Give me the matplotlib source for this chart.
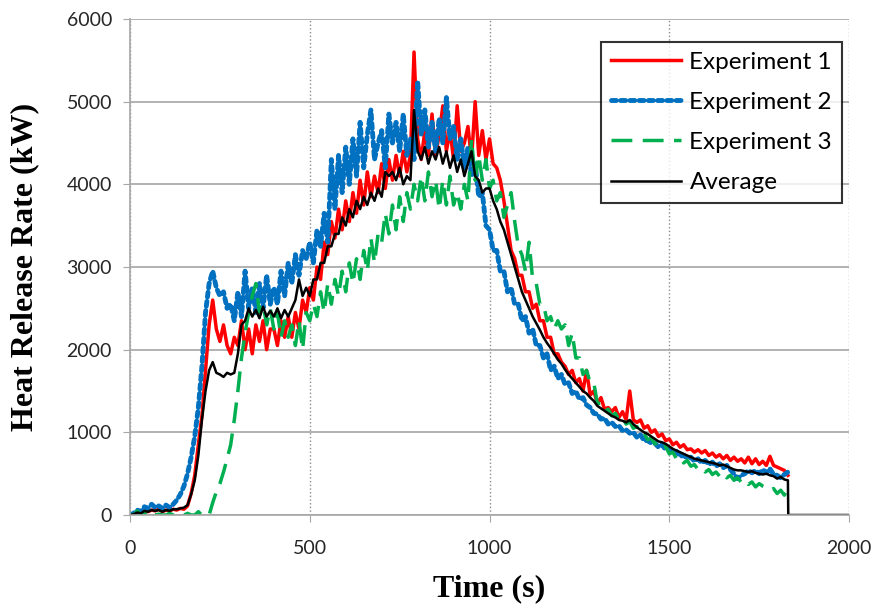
import numpy as np
import matplotlib
matplotlib.use("Agg")
import matplotlib.pyplot as plt

# time base: 10 s steps up to 1830 s
t = np.arange(0, 1840, 10)

exp1 = [0, 10, 30, 20, 50, 40, 60, 50, 70, 40,
        60, 50, 70, 60, 80, 70, 110, 260, 480, 850,
        1200, 1750, 2300, 2600, 2250, 2100, 2300, 2050, 1950, 2150,
        2050, 2350, 2000, 2250, 1950, 2300, 2100, 2350, 2000, 2250,
        2250, 2050, 2350, 2150, 2400, 2150, 2450, 2250, 2600, 2450,
        2750, 2600, 3000, 2850, 3300, 3150, 3550, 3350, 3700, 3450,
        3800, 3550, 3900, 3650, 4050, 3750, 4150, 3850, 4100, 3900,
        4250, 3950, 4300, 4050, 4350, 4100, 4400, 4150, 4350, 5600,
        4550, 4300, 4650, 4350, 4850, 4350, 4600, 4950, 4400, 4650,
        4300, 4950, 4400, 4500, 4700, 4300, 5000, 4350, 4650, 4300,
        4550, 4250, 4200, 4050, 3800, 3500, 3200, 3100, 2900, 2900,
        2700, 2700, 2500, 2550, 2350, 2350, 2150, 2150, 1950, 1950,
        1850, 1800, 1700, 1750, 1600, 1650, 1500, 1750, 1450, 1500,
        1350, 1420, 1280, 1300, 1250, 1300, 1180, 1250, 1150, 1500,
        1150, 1120, 1150, 1050, 1080, 1000, 1030, 950, 980, 900,
        920, 850, 880, 820, 850, 790, 800, 760, 790, 750,
        780, 720, 750, 700, 730, 680, 720, 660, 700, 650,
        680, 630, 700, 620, 680, 610, 650, 600, 710, 600,
        580, 560, 540, 480]

exp2 = [0, 20, 60, 40, 100, 80, 130, 90, 110, 80,
        120, 90, 130, 180, 250, 350, 500, 700, 950, 1300,
        1800, 2450, 2800, 2950, 2750, 2650, 2700, 2500, 2550, 2350,
        2700, 2400, 2950, 2500, 2750, 2450, 2800, 2500, 2900, 2550,
        2750, 2550, 2950, 2650, 3050, 2800, 3150, 2900, 3200, 3100,
        3300, 3050, 3450, 3250, 3650, 3300, 4300, 3700, 4350, 3900,
        4450, 4000, 4550, 4100, 4750, 4200, 4600, 4900, 4300, 4500,
        4650, 4200, 4850, 4500, 4750, 4400, 4850, 4350, 4550, 4300,
        5250, 4600, 4900, 4450, 4750, 4400, 4800, 4500, 5050, 4550,
        4700, 4300, 4550, 4200, 4450, 4100, 4250, 3850, 3900, 3500,
        3450, 3200, 3200, 2950, 2950, 2700, 2750, 2550, 2550, 2350,
        2400, 2200, 2250, 2050, 2050, 1900, 1950, 1750, 1800, 1650,
        1700, 1580, 1600, 1470, 1500, 1400, 1420, 1330, 1300, 1230,
        1220, 1160, 1170, 1100, 1120, 1070, 1080, 1020, 1030, 990,
        1000, 940, 970, 900, 900, 870, 870, 820, 850, 790,
        800, 750, 770, 710, 720, 690, 700, 650, 680, 630,
        660, 610, 640, 590, 620, 570, 600, 550, 500, 440,
        480, 500, 540, 510, 540, 500, 550, 510, 560, 490,
        480, 450, 490, 520]

exp3 = [0, 0, 50, 0, 20, 0, 40, 0, 10, 0,
        0, 20, 0, 0, 30, 0, 20, 0, 0, 40,
        0, 10, 0, 150, 280, 380, 520, 680, 850, 1150,
        1500, 1900, 2200, 2450, 2650, 2800, 2450, 2550, 2300, 2500,
        2250, 2450, 2150, 2350, 2150, 2300, 2050, 2350, 2000, 2450,
        2350, 2550, 2400, 2700, 2450, 2800, 2550, 2850, 2650, 2950,
        2700, 3050, 2800, 3100, 2850, 3200, 2950, 3350, 3050, 3400,
        3300, 3650, 3400, 3750, 3450, 3850, 3550, 3900, 3700, 4000,
        3800, 4100, 3800, 4150, 3850, 4050, 3700, 4050, 3750, 4100,
        3750, 3900, 3700, 4000, 3800, 4550, 4050, 4350, 4050, 4300,
        3950, 4050, 3800, 3900, 3600, 3750, 3900, 3550, 3250, 3150,
        2950, 3300, 2850, 2800, 2550, 2550, 2350, 2400, 2250, 2350,
        2250, 2300, 2050, 2200, 1900, 1900, 1700, 1750, 1600, 1600,
        1350, 1350, 1250, 1280, 1200, 1230, 1150, 1180, 1100, 1130,
        1050, 1070, 980, 990, 910, 930, 860, 880, 810, 830,
        740, 760, 680, 700, 630, 660, 590, 610, 550, 570,
        520, 550, 490, 520, 470, 510, 450, 480, 420, 450,
        400, 430, 370, 400, 340, 380, 350, 330, 300, 320,
        260, 300, 240, 320]

avg = [0, 10, 30, 20, 50, 40, 60, 50, 60, 40,
       60, 50, 70, 70, 80, 90, 120, 250, 420, 720,
       1150, 1500, 1750, 1850, 1720, 1700, 1670, 1720, 1700, 1720,
       1950, 2300, 2350, 2500, 2400, 2480, 2380, 2520, 2400, 2470,
       2400, 2500, 2380, 2480, 2400, 2500, 2600, 2850, 2650, 2750,
       2650, 2850, 2850, 3050, 3050, 3250, 3250, 3400, 3400, 3600,
       3500, 3700, 3600, 3800, 3700, 3850, 3750, 3900, 3800, 3950,
       3850, 4150, 4100, 4150, 4050, 4200, 4000, 4100, 4050, 4900,
       4400, 4300, 4450, 4250, 4400, 4300, 4450, 4250, 4400, 4200,
       4350, 4150, 4300, 4100, 4250, 4400, 4100, 4050, 3900, 3950,
       3950, 3800, 3700, 3550, 3450, 3300, 3150, 3000, 2850, 2700,
       2600, 2500, 2400, 2320, 2240, 2150, 2080, 2020, 1950, 1880,
       1830, 1760, 1700, 1650, 1600, 1550, 1500, 1470, 1420, 1380,
       1320, 1290, 1260, 1230, 1200, 1180, 1150, 1140, 1120, 1150,
       1100, 1060, 1030, 1000, 980, 950, 920, 890, 880, 860,
       830, 800, 780, 760, 740, 720, 700, 680, 670, 660,
       650, 640, 630, 620, 600, 610, 590, 570, 550, 540,
       540, 530, 520, 530, 510, 500, 490, 500, 480, 470,
       440, 460, 430, 420]

# average drops to zero after the test ends
t_avg = list(t) + [1831, 2000]
avg_full = avg + [0, 0]

fig = plt.figure(figsize=(8.81, 6.11), dpi=100)
ax = fig.add_axes([0.1476, 0.1571, 0.8161, 0.8118])

ax.plot(t, exp1, color='#FF0000', lw=2.5, label='Experiment 1')
ax.plot(t, exp2, color='#0070C0', lw=3.5, linestyle=(0, (1, 0.9)),
        dash_capstyle='round', label='Experiment 2')
ax.plot(t, exp3, color='#00B050', lw=2.5, linestyle=(0, (6, 3)), label='Experiment 3')
ax.plot(t_avg, avg_full, color='black', lw=1.8, label='Average')

ax.set_xlim(0, 2000)
ax.set_ylim(0, 6000)
ax.set_xticks([0, 500, 1000, 1500, 2000])
ax.set_yticks(np.arange(0, 6001, 1000))

ax.grid(axis='y', color='#A6A6A6', lw=1.2, linestyle='-')
ax.grid(axis='x', color='#8C8C8C', lw=1.0, linestyle=':')
ax.set_axisbelow(True)

for s in ['top', 'right']:
    ax.spines[s].set_visible(False)
for s in ['left', 'bottom']:
    ax.spines[s].set_color('#A6A6A6')
    ax.spines[s].set_linewidth(1.2)
ax.tick_params(axis='both', direction='out', length=5, color='#A6A6A6', labelsize=14)
ax.tick_params(axis='x', pad=13)
ax.tick_params(axis='y', pad=8)
for lab in ax.get_xticklabels() + ax.get_yticklabels():
    lab.set_fontfamily('Lato')
    lab.set_color('#262626')

ax.set_xlabel('Time (s)', fontsize=23, fontweight='bold', family='Liberation Serif')
ax.set_ylabel('Heat Release Rate (kW)', fontsize=23, fontweight='bold', family='Liberation Serif')
ax.xaxis.set_label_coords(0.5, -0.12)
ax.yaxis.set_label_coords(-0.127, 0.5)

leg = ax.legend(loc='upper right', bbox_to_anchor=(0.990, 0.954), borderaxespad=0,
                prop={'family': 'Lato', 'size': 17.5},
                frameon=True, fancybox=False, edgecolor='black', handlelength=2.9,
                labelspacing=0.79, borderpad=0.4, handletextpad=0.33)
leg.get_frame().set_linewidth(1.5)

fig.savefig('out.png', dpi=100)
